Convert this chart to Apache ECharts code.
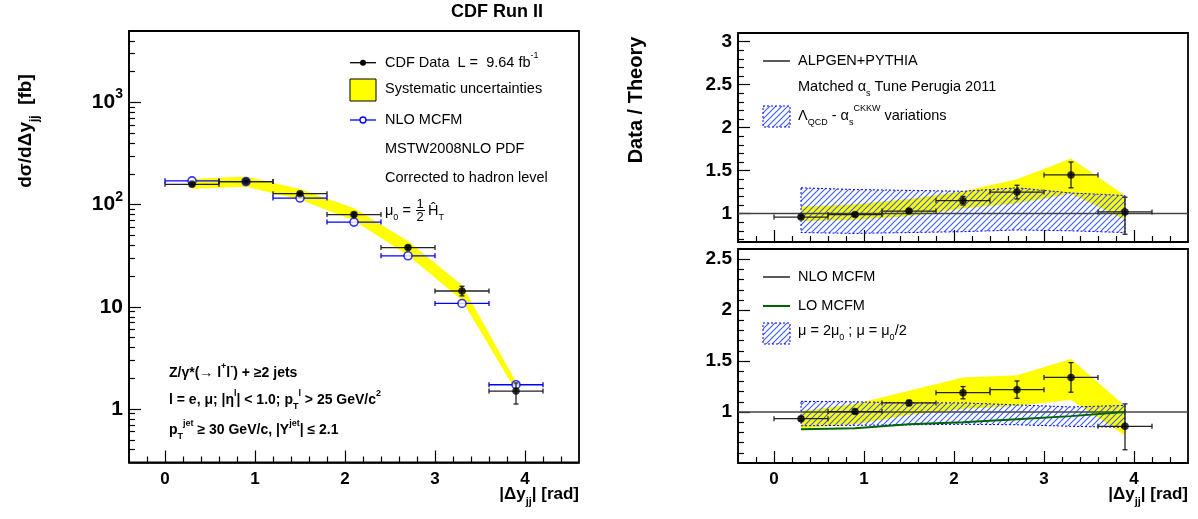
<!DOCTYPE html>
<html><head><meta charset="utf-8">
<script src="https://cdn.jsdelivr.net/npm/echarts@6/dist/echarts.min.js"></script>
<style>html,body{margin:0;padding:0;background:#fff}#c{width:1198px;height:519px}</style>
</head><body><div id="c"></div>
<script>
// ---------------- DATA ----------------
const binCenters = [0.3, 0.9, 1.5, 2.1, 2.7, 3.3, 3.9];
const binHalfWidth = 0.3;

// Left: cross section [fb]
const dataXsec      = [158, 168, 128, 80, 38, 14.3, 1.5];
const dataXsecErrUp = [5, 5, 4, 3, 1.5, 1.6, 0.3];
const dataXsecErrDn = [5, 5, 4, 3, 1.5, 1.5, 0.38];
const mcfmXsec      = [171, 168, 116, 67.5, 31.6, 10.8, 1.73];
const systXsecLo    = [143, 150, 112, 70, 32, 11.6, 1.5];
const systXsecHi    = [178, 188, 142, 92, 44, 16.3, 1.85];

// Upper right: Data / ALPGEN+PYTHIA
const ratioAlpgen      = [0.96, 0.99, 1.03, 1.15, 1.25, 1.45, 1.02];
const ratioAlpgenErrUp = [0.02, 0.02, 0.02, 0.05, 0.08, 0.15, 0.17];
const ratioAlpgenErrDn = [0.02, 0.02, 0.02, 0.05, 0.08, 0.15, 0.26];
const alpgenSystLo     = [0.91, 0.93, 0.97, 1.06, 1.12, 1.23, 0.93];
const alpgenSystHi     = [1.08, 1.11, 1.17, 1.26, 1.40, 1.64, 1.21];
const alpgenVarLo      = [0.78, 0.77, 0.78, 0.79, 0.81, 0.80, 0.78];
const alpgenVarHi      = [1.30, 1.28, 1.27, 1.26, 1.30, 1.24, 1.21];

// Lower right: Data / NLO MCFM
const ratioNlo      = [0.935, 1.005, 1.09, 1.19, 1.22, 1.34, 0.86];
const ratioNloErrUp = [0.02, 0.02, 0.025, 0.06, 0.085, 0.145, 0.22];
const ratioNloErrDn = [0.02, 0.02, 0.025, 0.06, 0.085, 0.145, 0.23];
const nloSystLo     = [0.84, 0.88, 0.97, 1.03, 1.06, 1.12, 0.77];
const nloSystHi     = [1.01, 1.08, 1.21, 1.34, 1.36, 1.52, 1.06];
const nloScaleLo    = [0.865, 0.87, 0.875, 0.88, 0.875, 0.86, 0.85];
const nloScaleHi    = [1.105, 1.10, 1.09, 1.09, 1.07, 1.05, 1.065];
const loMcfmRatio   = [0.83, 0.84, 0.88, 0.90, 0.93, 0.96, 1.00];

// Axis ticks
const xMin = -0.4, xMax = 4.6;
const xMajorTicks = [0, 1, 2, 3, 4];
const xMinorTicks = [-0.2, 0.2, 0.4, 0.6, 0.8, 1.2, 1.4, 1.6, 1.8, 2.2, 2.4, 2.6, 2.8, 3.2, 3.4, 3.6, 3.8, 4.2, 4.4];
const logMin = 0.3, logMax = 5000;
const logMajorTicks = [1, 10, 100, 1000];
const logMinorTicks = [0.4, 0.5, 0.6, 0.7, 0.8, 0.9, 2, 3, 4, 5, 6, 7, 8, 9, 20, 30, 40, 50, 60, 70, 80, 90,
                       200, 300, 400, 500, 600, 700, 800, 900, 2000, 3000, 4000];
const upMin = 0.67, upMax = 3.1;
const upMajorTicks = [1, 1.5, 2, 2.5, 3];
const upMinorTicks = [0.7, 0.8, 0.9, 1.1, 1.2, 1.3, 1.4, 1.6, 1.7, 1.8, 1.9, 2.1, 2.2, 2.3, 2.4, 2.6, 2.7, 2.8, 2.9];
const loMin = 0.5, loMax = 2.6;
const loMajorTicks = [1, 1.5, 2, 2.5];
const loMinorTicks = [0.6, 0.7, 0.8, 0.9, 1.1, 1.2, 1.3, 1.4, 1.6, 1.7, 1.8, 1.9, 2.1, 2.2, 2.3, 2.4];

// ---------------- STYLE ----------------
const F = '"Liberation Sans", Arial, Helvetica, sans-serif';
const YELLOW = '#ffff00', BLUE = '#0000ff', HATCH = '#3a5cff', GREEN = '#006400';

function makeHatch() {
  const c = document.createElement('canvas');
  c.width = 6; c.height = 6;
  const g = c.getContext('2d');
  g.strokeStyle = HATCH; g.lineWidth = 1.1;
  g.beginPath();
  g.moveTo(0, 6); g.lineTo(6, 0);
  g.moveTo(-1, 1); g.lineTo(1, -1);
  g.moveTo(5, 7); g.lineTo(7, 5);
  g.stroke();
  return c;
}
const hatchPattern = { image: makeHatch(), repeat: 'repeat' };

function richSet(size, weight) {
  const s = Math.round(size * 0.64);
  return {
    n:   { fontSize: size, fontWeight: weight, fontFamily: F, lineHeight: Math.round(size * 1.6), verticalAlign: 'middle', color: '#000' },
    sub: { fontSize: s, fontWeight: weight, fontFamily: F, lineHeight: s, verticalAlign: 'bottom', color: '#000' },
    sup: { fontSize: s, fontWeight: weight, fontFamily: F, lineHeight: s, verticalAlign: 'top', color: '#000' }
  };
}

// ---------------- AXES ----------------
function xAxisPair(grid, showLabels) {
  const line = { show: true, onZero: false, lineStyle: { color: '#000', width: 1.5 } };
  return [
    { type: 'value', gridIndex: grid, min: xMin, max: xMax, position: 'bottom',
      axisLine: line, splitLine: { show: false },
      axisTick: { show: true, inside: true, length: 12, customValues: xMajorTicks, lineStyle: { color: '#000', width: 1.2 } },
      axisLabel: { show: showLabels, customValues: xMajorTicks, margin: 8, fontFamily: F, fontWeight: 'bold', fontSize: 17, color: '#000' } },
    { type: 'value', gridIndex: grid, min: xMin, max: xMax, position: 'bottom',
      axisLine: { show: false, onZero: false }, splitLine: { show: false }, axisLabel: { show: false },
      axisTick: { show: true, inside: true, length: 6, customValues: xMinorTicks, lineStyle: { color: '#000', width: 1.2 } } }
  ];
}
function yAxisPair(grid, type, min, max, majors, minors, fmt, rich, fs) {
  const line = { show: true, onZero: false, lineStyle: { color: '#000', width: 1.5 } };
  const base = { type: type, gridIndex: grid, min: min, max: max, position: 'left', splitLine: { show: false } };
  if (type === 'log') base.logBase = 10;
  return [
    Object.assign({}, base, {
      axisLine: line,
      axisTick: { show: true, inside: true, length: 12, customValues: majors, lineStyle: { color: '#000', width: 1.2 } },
      axisLabel: { show: true, customValues: majors, margin: 6, formatter: fmt, rich: rich,
                   fontFamily: F, fontWeight: 'bold', fontSize: fs, color: '#000' } }),
    Object.assign({}, base, {
      axisLine: { show: false, onZero: false }, axisLabel: { show: false },
      axisTick: { show: true, inside: true, length: 6, customValues: minors, lineStyle: { color: '#000', width: 1.2 } } })
  ];
}
const logRich = {
  n:   { fontSize: 21, fontWeight: 'bold', fontFamily: F, lineHeight: 30, color: '#000' },
  sup: { fontSize: 14, fontWeight: 'bold', fontFamily: F, lineHeight: 14, verticalAlign: 'top', color: '#000' }
};
function logFmt(v) {
  const e = Math.round(Math.log10(v));
  if (e === 0) return '{n|1}';
  if (e === 1) return '{n|10}';
  return '{n|10}{sup|' + e + '}';
}
function linFmt(v) { return String(Math.round(v * 10) / 10); }

// ---------------- SERIES HELPERS ----------------
function bandSeries(xi, yi, lo, hi, fill, stroke, dash, z) {
  return {
    type: 'custom', xAxisIndex: xi, yAxisIndex: yi, z: z, silent: true,
    data: binCenters.map((x, i) => [x, lo[i], hi[i]]),
    encode: { x: 0, y: [1, 2] },
    renderItem: function (params, api) {
      if (params.dataIndex !== 0) return null;
      const pts = [];
      for (let i = 0; i < binCenters.length; i++) pts.push(api.coord([binCenters[i], hi[i]]));
      for (let i = binCenters.length - 1; i >= 0; i--) pts.push(api.coord([binCenters[i], lo[i]]));
      return { type: 'polygon', shape: { points: pts },
               style: { fill: fill, stroke: stroke || null, lineWidth: 1, lineDash: dash || null } };
    }
  };
}
function errorSeries(xi, yi, ys, up, dn, color, z) {
  return {
    type: 'custom', xAxisIndex: xi, yAxisIndex: yi, z: z, silent: true,
    data: binCenters.map((x, i) => [x, ys[i], x - binHalfWidth, x + binHalfWidth,
                                    up ? ys[i] - dn[i] : ys[i], up ? ys[i] + up[i] : ys[i]]),
    encode: { x: 0, y: 1 },
    renderItem: function (params, api) {
      const x = api.value(0), y = api.value(1);
      const l = api.coord([api.value(2), y]), r = api.coord([api.value(3), y]);
      const st = { stroke: color, lineWidth: 1.3 };
      const c = 2.5;
      const ch = [
        { type: 'line', shape: { x1: l[0], y1: l[1], x2: r[0], y2: r[1] }, style: st },
        { type: 'line', shape: { x1: l[0], y1: l[1] - c, x2: l[0], y2: l[1] + c }, style: st },
        { type: 'line', shape: { x1: r[0], y1: r[1] - c, x2: r[0], y2: r[1] + c }, style: st }
      ];
      if (api.value(4) !== api.value(5)) {
        const lo = api.coord([x, api.value(4)]), hi = api.coord([x, api.value(5)]);
        ch.push({ type: 'line', shape: { x1: lo[0], y1: lo[1], x2: hi[0], y2: hi[1] }, style: st });
        ch.push({ type: 'line', shape: { x1: lo[0] - c, y1: lo[1], x2: lo[0] + c, y2: lo[1] }, style: st });
        ch.push({ type: 'line', shape: { x1: hi[0] - c, y1: hi[1], x2: hi[0] + c, y2: hi[1] }, style: st });
      }
      return { type: 'group', children: ch };
    }
  };
}
function pointSeries(xi, yi, ys, filled, color, z) {
  return {
    type: 'scatter', xAxisIndex: xi, yAxisIndex: yi, z: z, silent: true,
    data: binCenters.map((x, i) => [x, ys[i]]), symbol: 'circle', symbolSize: filled ? 7.5 : 8,
    itemStyle: filled ? { color: color } : { color: '#fff', borderColor: color, borderWidth: 1.6 }
  };
}
function lineSeries(xi, yi, pts, color, width, z) {
  return { type: 'line', xAxisIndex: xi, yAxisIndex: yi, z: z, silent: true, data: pts,
           symbol: 'none', lineStyle: { color: color, width: width } };
}

// ---------------- GRAPHIC HELPERS ----------------
function txt(x, y, text, size, weight, align, rot) {
  return { type: 'text', x: x, y: y, rotation: rot || 0, silent: true,
           style: { text: text, rich: richSet(size, weight), align: align || 'left', verticalAlign: 'middle',
                    fontFamily: F, fontSize: size, fontWeight: weight, fill: '#000' } };
}
function gline(x1, y1, x2, y2, color, w) {
  return { type: 'line', silent: true, shape: { x1: x1, y1: y1, x2: x2, y2: y2 }, style: { stroke: color, lineWidth: w } };
}

const LS = 14.5; // legend font size
const BS = 14;   // bottom-left bold text size
const graphics = [
  txt(497, 12, '{n|CDF Run II}', 18, 'bold', 'center'),
  txt(26, 131, '{n|dσ/dΔy}{sub|jj}{n|  [fb]}', 19, 'bold', 'center', Math.PI / 2),
  txt(636, 100, '{n|Data / Theory}', 20, 'bold', 'center', Math.PI / 2),
  txt(579, 494, '{n||Δy}{sub|jj}{n|| [rad]}', 17, 'bold', 'right'),
  txt(1188, 494, '{n||Δy}{sub|jj}{n|| [rad]}', 17, 'bold', 'right'),

  // left legend
  gline(350, 62.7, 376, 62.7, '#000', 1.3),
  { type: 'circle', silent: true, shape: { cx: 363, cy: 62.7, r: 3 }, style: { fill: '#000' } },
  txt(385, 62.7, '{n|CDF Data  L =  9.64 fb}{sup|-1}', LS, 'normal'),
  { type: 'rect', silent: true, shape: { x: 350, y: 79, width: 26, height: 22 }, style: { fill: YELLOW, stroke: '#000', lineWidth: 1 } },
  txt(385, 89, '{n|Systematic uncertainties}', LS, 'normal'),
  gline(350, 120, 376, 120, BLUE, 1.3),
  { type: 'circle', silent: true, shape: { cx: 363, cy: 120, r: 3 }, style: { fill: '#fff', stroke: BLUE, lineWidth: 1.3 } },
  txt(385, 120, '{n|NLO MCFM}', LS, 'normal'),
  txt(385, 149, '{n|MSTW2008NLO PDF}', LS, 'normal'),
  txt(385, 178, '{n|Corrected to hadron level}', LS, 'normal'),
  txt(385, 211, '{n|μ}{sub|0}{n| = }', LS, 'normal'),
  txt(420, 204.5, '{n|1}', 13, 'normal', 'center'),
  gline(416, 210.5, 425, 210.5, '#000', 1),
  txt(420, 217, '{n|2}', 13, 'normal', 'center'),
  txt(428, 211, '{n|Ĥ}{sub|T}', LS, 'normal'),

  // left bottom text
  txt(169, 373, '{n|Z/γ*(→ l}{sup|+}{n|l}{sup|-}{n|) + ≥2 jets}', BS, 'bold'),
  txt(169, 400, '{n|l = e, μ; |η}{sup|l}{n|| < 1.0; p}{sub|T}{sup|l}{n| > 25 GeV/c}{sup|2}', BS, 'bold'),
  txt(169, 430, '{n|p}{sub|T}{sup|jet}{n| ≥ 30 GeV/c, |Y}{sup|jet}{n|| ≤ 2.1}', BS, 'bold'),

  // upper right legend
  gline(763, 61, 790, 61, '#000', 1.3),
  txt(798, 61, '{n|ALPGEN+PYTHIA}', LS, 'normal'),
  txt(798, 87, '{n|Matched α}{sub|s}{n| Tune Perugia 2011}', LS, 'normal'),
  { type: 'rect', silent: true, shape: { x: 763, y: 106, width: 27, height: 21 }, style: { fill: hatchPattern, stroke: BLUE, lineWidth: 1, lineDash: [2, 2] } },
  txt(798, 116, '{n|Λ}{sub|QCD}{n| - α}{sub|s}{sup|CKKW}{n| variations}', LS, 'normal'),

  // lower right legend
  gline(763, 277, 790, 277, '#000', 1.3),
  txt(798, 277, '{n|NLO MCFM}', LS, 'normal'),
  gline(763, 306, 790, 306, GREEN, 2),
  txt(798, 306, '{n|LO MCFM}', LS, 'normal'),
  { type: 'rect', silent: true, shape: { x: 763, y: 323, width: 27, height: 21 }, style: { fill: hatchPattern, stroke: BLUE, lineWidth: 1, lineDash: [2, 2] } },
  txt(798, 331, '{n|μ = 2μ}{sub|0}{n| ; μ = μ}{sub|0}{n|/2}', LS, 'normal')
];

// ---------------- OPTION ----------------
const gridStyle = { show: true, borderColor: '#000', borderWidth: 1.8, backgroundColor: 'transparent' };
const option = {
  animation: false,
  backgroundColor: '#fff',
  grid: [
    Object.assign({ left: 129, top: 31, width: 450, height: 431.5 }, gridStyle),
    Object.assign({ left: 738, top: 33, width: 450, height: 209 }, gridStyle),
    Object.assign({ left: 738, top: 249, width: 450, height: 214 }, gridStyle)
  ],
  xAxis: [].concat(xAxisPair(0, true), xAxisPair(1, false), xAxisPair(2, true)),
  yAxis: [].concat(
    yAxisPair(0, 'log', logMin, logMax, logMajorTicks, logMinorTicks, logFmt, logRich, 21),
    yAxisPair(1, 'value', upMin, upMax, upMajorTicks, upMinorTicks, linFmt, null, 19),
    yAxisPair(2, 'value', loMin, loMax, loMajorTicks, loMinorTicks, linFmt, null, 19)
  ),
  graphic: graphics,
  series: [
    // left
    bandSeries(0, 0, systXsecLo, systXsecHi, YELLOW, null, null, 1),
    errorSeries(0, 0, mcfmXsec, null, null, BLUE, 4),
    pointSeries(0, 0, mcfmXsec, false, BLUE, 5),
    errorSeries(0, 0, dataXsec, dataXsecErrUp, dataXsecErrDn, '#222', 6),
    pointSeries(0, 0, dataXsec, true, '#000', 7),
    // upper right
    bandSeries(2, 2, alpgenSystLo, alpgenSystHi, YELLOW, null, null, 1),
    bandSeries(2, 2, alpgenVarLo, alpgenVarHi, hatchPattern, BLUE, [2, 2], 2),
    lineSeries(2, 2, [[xMin, 1], [xMax, 1]], '#444', 1.5, 3),
    errorSeries(2, 2, ratioAlpgen, ratioAlpgenErrUp, ratioAlpgenErrDn, '#222', 6),
    pointSeries(2, 2, ratioAlpgen, true, '#000', 7),
    // lower right
    bandSeries(4, 4, nloSystLo, nloSystHi, YELLOW, null, null, 1),
    bandSeries(4, 4, nloScaleLo, nloScaleHi, hatchPattern, BLUE, [2, 2], 2),
    lineSeries(4, 4, [[xMin, 1], [xMax, 1]], '#444', 1.5, 3),
    lineSeries(4, 4, binCenters.map((x, i) => [x, loMcfmRatio[i]]), GREEN, 2, 3),
    errorSeries(4, 4, ratioNlo, ratioNloErrUp, ratioNloErrDn, '#222', 6),
    pointSeries(4, 4, ratioNlo, true, '#000', 7)
  ]
};
const chart = echarts.init(document.getElementById('c'), null, { renderer: 'canvas' });
chart.setOption(option);
</script>
</body></html>
